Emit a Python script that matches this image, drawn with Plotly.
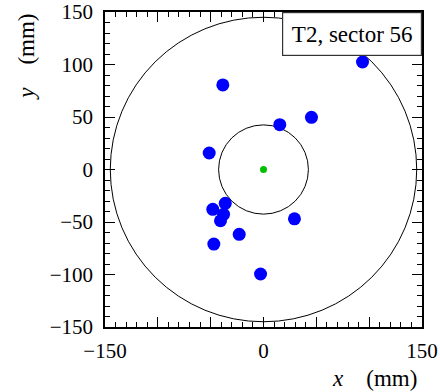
import plotly.graph_objects as go

# Data
hit_x = [-38.5, 93.7, 15.4, 45.4, -51.4, -36.2, -48.0, -37.8, -40.7, -23.0, 29.3, -2.8, -47.0]
hit_y = [80.5, 102.4, 42.7, 49.7, 15.7, -32.2, -37.9, -42.7, -48.8, -61.7, -47.0, -99.5, -71.0]
center_x = [0.0]
center_y = [0.0]
circle_radii = [145.0, 42.5]
tick_vals = [-150, -100, -50, 0, 50, 100, 150]
x_tick_vals = [-150, -100, -50, 0, 50, 100, 150]
x_tick_text = ["\u2212150", "", "", "0", "", "", "150"]
label_text = "T2, sector 56"

FONT = "Liberation Serif, DejaVu Serif, serif"

fig = go.Figure()

for r in circle_radii:
    fig.add_shape(type="circle", xref="x", yref="y", x0=-r, y0=-r, x1=r, y1=r,
                  line=dict(color="black", width=1), layer="below")

fig.add_trace(go.Scatter(x=hit_x, y=hit_y, mode="markers",
                         marker=dict(color="#0000ff", size=13, line=dict(width=0)),
                         showlegend=False, cliponaxis=False))
fig.add_trace(go.Scatter(x=center_x, y=center_y, mode="markers",
                         marker=dict(color="#00c000", size=7, line=dict(width=0)),
                         showlegend=False))

axis_common = dict(
    range=[-150, 150], showgrid=False, zeroline=False, automargin=False,
    showline=True, linecolor="black", linewidth=1.5, mirror="allticks",
    ticks="inside", ticklen=10, tickwidth=1.2, tickcolor="black",
    minor=dict(ticks="inside", ticklen=5, tickwidth=1, tickcolor="black", dtick=10, showgrid=False),
    tickfont=dict(family=FONT, size=21, color="black"),
    tickmode="array",
)

fig.update_xaxes(**axis_common, tickvals=x_tick_vals, ticktext=x_tick_text, ticklabelstandoff=4)
fig.update_yaxes(**axis_common, tickvals=tick_vals,
                 ticktext=[f"{v:g}".replace("-", "\u2212") for v in tick_vals],
                 ticklabelstandoff=6)

fig.add_annotation(xref="paper", yref="paper", x=1, y=1, xanchor="right", yanchor="top",
                   text=label_text, showarrow=False, font=dict(family=FONT, size=23, color="black"),
                   bgcolor="white", bordercolor="#333333", borderwidth=1.2, borderpad=0,
                   width=138, height=42)

fig.add_annotation(xref="paper", yref="paper", x=0.849, y=-0.165, xanchor="center", yanchor="middle",
                   text="<i>x</i>\u00a0\u00a0\u00a0\u00a0(mm)", showarrow=False,
                   font=dict(family=FONT, size=23, color="black"))
fig.add_annotation(xref="paper", yref="paper", x=-0.25, y=0.857, xanchor="center", yanchor="middle",
                   text="<i>y</i>\u00a0\u00a0\u00a0\u00a0(mm)", showarrow=False, textangle=-90,
                   font=dict(family=FONT, size=23, color="black"))

fig.update_layout(width=440, height=392,
                  margin=dict(l=105, r=17.5, t=12, b=64.7, autoexpand=False),
                  plot_bgcolor="white", paper_bgcolor="white")

fig.write_html("out.html")
